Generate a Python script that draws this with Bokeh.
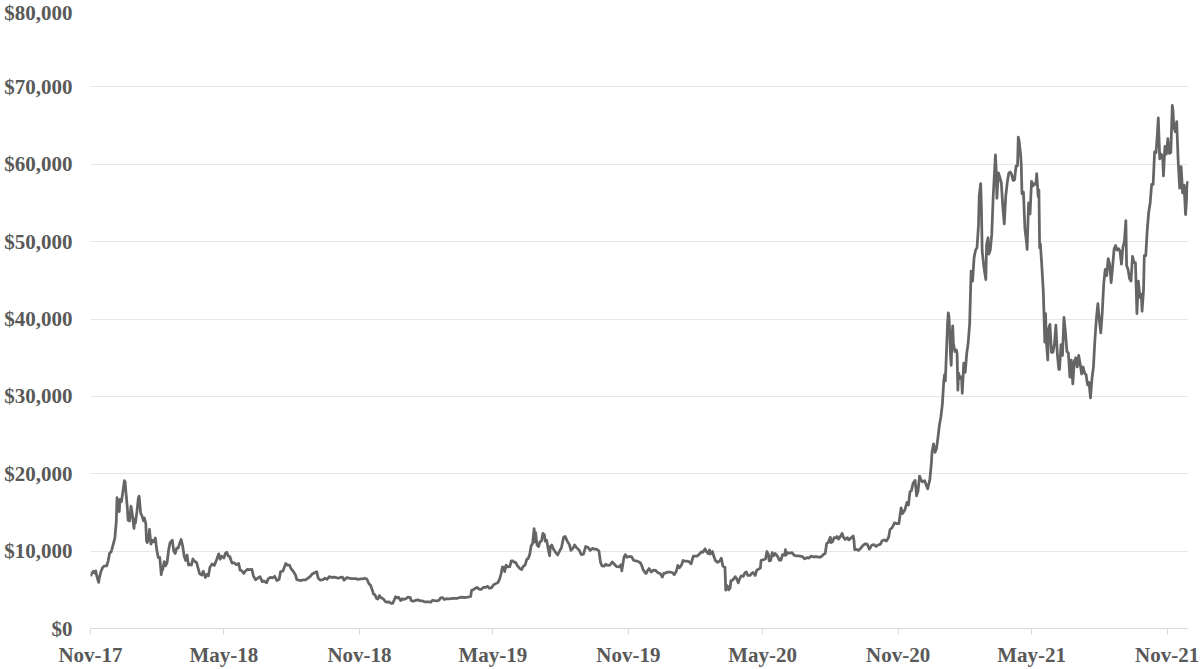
import pandas as pd
from bokeh.plotting import figure
from bokeh.models import (ColumnDataSource, FixedTicker, NumeralTickFormatter,
                          DatetimeTickFormatter, Range1d)
from bokeh.embed import file_html
from bokeh.resources import INLINE

# ---------------- data (BTC price, USD) ----------------
days_2017 = ["11-01","11-03","11-05","11-07","11-08","11-10","11-12","11-13","11-15","11-17",
             "11-19","11-21","11-23","11-25","11-27","11-29","11-30","12-02","12-04","12-06",
             "12-07","12-08","12-10","12-11","12-13","12-15","12-17","12-18","12-19","12-21",
             "12-22","12-24","12-26","12-28","12-30","12-31"]
price_2017 = [6750,7150,7400,7150,7450,6600,5950,6550,7300,7800,
              8050,8100,8100,8750,9750,9900,10230,10950,11650,13800,
              16900,16100,15100,16700,16400,17700,19100,18950,17700,15600,
              14000,13900,15800,14600,12950,14150]

days_2018 = ["01-01","01-03","01-05","01-06","01-08","01-10","01-12","01-13","01-15","01-16",
             "01-17","01-19","01-20","01-22","01-24","01-26","01-28","01-30","02-01","02-03",
             "02-05","02-06","02-07","02-09","02-11","02-13","02-15","02-17","02-20","02-22",
             "02-24","02-26","02-28","03-02","03-04","03-06","03-08","03-10","03-12","03-14",
             "03-16","03-18","03-20","03-22","03-25","03-27","03-29","04-01","04-03","04-06",
             "04-08","04-10","04-12","04-15","04-18","04-21","04-24","04-26","04-28","05-01",
             "05-03","05-05","05-07","05-09","05-12","05-15","05-18","05-21","05-23","05-25",
             "05-28","05-30","06-02","06-05","06-08","06-10","06-13","06-16","06-19","06-22",
             "06-24","06-28","06-30","07-03","07-06","07-09","07-12","07-15","07-17","07-20",
             "07-24","07-26","07-29","07-31","08-03","08-06","08-08","08-11","08-14","08-17",
             "08-20","08-23","08-26","08-29","09-01","09-04","09-06","09-09","09-12","09-15",
             "09-18","09-21","09-24","09-27","09-30","10-03","10-06","10-09","10-11","10-15",
             "10-18","10-21","10-24","10-27","10-30","11-02","11-05","11-08","11-11","11-14",
             "11-16","11-19","11-20","11-22","11-24","11-26","11-28","11-30","12-03","12-06",
             "12-08","12-11","12-14","12-16","12-18","12-20","12-22","12-24","12-27","12-29",
             "12-31"]
price_2018 = [13650,15100,16900,17100,14950,14500,13900,14300,13600,11300,
              11100,11600,12800,10900,11400,11200,11700,10100,9150,9200,
              6950,7700,7600,8650,8100,8550,10150,11100,11400,10000,
              9700,10400,10400,11000,11500,10700,9400,8800,9500,8200,
              8300,8200,9000,8700,8500,7800,7100,6900,7400,6600,
              7000,6800,7900,8350,8150,8850,9650,8950,9350,9100,
              9700,9850,9350,9300,8450,8500,8250,8400,7550,7500,
              7120,7400,7650,7600,7650,6800,6300,6500,6700,6050,
              6150,5900,6400,6600,6550,6750,6200,6350,7350,7400,
              8400,8200,8200,7750,7400,6950,6300,6250,6200,6300,
              6300,6500,6700,7050,7200,7350,6500,6250,6300,6500,
              6350,6700,6600,6650,6600,6500,6600,6650,6250,6600,
              6500,6450,6450,6450,6350,6400,6400,6500,6400,5750,
              5600,4800,4450,4350,3900,3800,4250,4000,3850,3500,
              3400,3450,3250,3250,3650,4100,3950,4050,3600,3850,
              3750]

days_2019 = ["01-03","01-06","01-09","01-10","01-13","01-16","01-19","01-22","01-25","01-28",
             "01-31","02-03","02-06","02-08","02-11","02-14","02-17","02-19","02-22","02-24",
             "02-27","03-02","03-05","03-08","03-11","03-14","03-17","03-20","03-23","03-27",
             "03-30","04-01","04-02","04-05","04-08","04-10","04-12","04-15","04-18","04-21",
             "04-24","04-26","04-29","05-02","05-05","05-08","05-10","05-12","05-14","05-16",
             "05-17","05-19","05-21","05-24","05-26","05-28","05-30","06-01","06-03","06-06",
             "06-09","06-11","06-14","06-16","06-18","06-20","06-22","06-24","06-26","06-27",
             "06-28","06-30","07-02","07-04","07-06","07-08","07-10","07-11","07-13","07-15",
             "07-17","07-18","07-20","07-22","07-25","07-28","07-31","08-02","08-05","08-07",
             "08-10","08-13","08-15","08-18","08-20","08-23","08-26","08-29","09-01","09-04",
             "09-07","09-10","09-13","09-16","09-19","09-22","09-24","09-26","09-29","10-01",
             "10-04","10-07","10-10","10-13","10-16","10-19","10-22","10-23","10-25","10-26",
             "10-28","10-30","11-02","11-05","11-08","11-11","11-14","11-17","11-19","11-21",
             "11-23","11-25","11-27","11-29","12-02","12-05","12-08","12-11","12-14","12-17",
             "12-19","12-21","12-24","12-27","12-31"]
price_2019 = [3850,4050,4000,3630,3520,3630,3700,3600,3580,3450,
              3450,3450,3400,3650,3600,3580,3650,3950,3980,3750,
              3850,3830,3850,3880,3880,3900,4000,4050,4000,4050,
              4100,4150,4900,5050,5250,5300,5100,5050,5300,5300,
              5450,5200,5250,5650,5800,5950,6350,7000,7950,7900,
              7350,8200,7950,8000,8750,8750,8550,8550,8150,7800,
              7600,8000,8250,8950,9050,9550,10700,11000,12900,11200,
              12400,10800,10600,11200,11300,12300,12100,11300,11400,10300,
              9400,10600,10800,10300,9850,9500,10100,10400,11800,11900,
              11300,10800,10100,10400,10800,10400,10150,9550,9600,10600,
              10500,10100,10350,10250,10250,10000,8600,8100,8050,8300,
              8150,8200,8600,8300,8000,7950,8250,7450,8650,9250,
              9550,9200,9300,9300,8800,8750,8650,8500,8150,7600,
              7300,7100,7500,7750,7300,7550,7500,7200,7100,6650,
              7150,7150,7300,7300,7200]

days_2020 = ["01-02","01-05","01-07","01-09","01-12","01-14","01-16","01-19","01-22","01-25",
             "01-28","01-31","02-02","02-05","02-08","02-10","02-13","02-15","02-17","02-19",
             "02-20","02-23","02-25","02-27","03-01","03-04","03-06","03-08","03-10","03-11",
             "03-12","03-13","03-15","03-16","03-18","03-19","03-21","03-23","03-25","03-27",
             "03-29","03-31","04-02","04-05","04-07","04-09","04-11","04-14","04-16","04-18",
             "04-21","04-23","04-26","04-28","04-29","05-01","05-03","05-05","05-07","05-09",
             "05-10","05-12","05-14","05-16","05-18","05-20","05-22","05-24","05-26","05-28",
             "05-31","06-01","06-02","06-04","06-07","06-10","06-13","06-15","06-18","06-21",
             "06-24","06-27","06-30","07-03","07-06","07-09","07-12","07-15","07-18","07-21",
             "07-23","07-25","07-27","07-29","08-01","08-02","08-04","08-06","08-08","08-10",
             "08-12","08-14","08-17","08-19","08-21","08-24","08-26","08-29","09-01","09-02",
             "09-03","09-05","09-08","09-11","09-14","09-17","09-20","09-23","09-26","09-29",
             "10-02","10-05","10-08","10-10","10-13","10-16","10-19","10-21","10-24","10-27",
             "10-30","11-02","11-05","11-07","11-10","11-13","11-15","11-17","11-19","11-21",
             "11-24","11-26","11-28","11-30","12-02","12-04","12-07","12-09","12-11","12-14",
             "12-16","12-17","12-19","12-21","12-23","12-25","12-27","12-29","12-31"]
price_2020 = [6950,7400,8150,7850,8200,8800,8700,8700,8650,8350,
              9350,9350,9350,9600,9900,9850,10300,9900,9700,10150,
              9600,9950,9300,8780,8550,8750,9100,8100,7900,7900,
              4950,5600,5400,5000,5250,6200,6200,6450,6700,6400,
              5900,6450,6800,6750,7200,7300,6850,6850,7100,7250,
              6850,7500,7700,7800,8800,8850,8900,9000,9950,9550,
              8750,8800,9800,9400,9700,9500,9200,8800,8850,9550,
              9450,10200,9500,9800,9750,9800,9450,9400,9400,9350,
              9300,9000,9150,9100,9350,9250,9300,9250,9200,9400,
              9600,9700,11000,11100,11800,11100,11200,11750,11700,11900,
              11550,11800,12300,11750,11500,11750,11450,11700,11950,11400,
              10200,10250,10100,10350,10700,10950,10900,10250,10750,10850,
              10600,10800,10900,11300,11450,11300,11750,12800,13050,13650,
              13550,13550,15600,14850,15300,16300,15950,17650,17800,18700,
              19150,17150,17750,19700,19200,18950,19100,18550,18050,19250,
              21300,22800,23850,22750,23250,24650,26300,27350,29000]

days_2021 = ["01-02","01-03","01-04","01-06","01-07","01-08","01-09","01-10","01-11","01-12",
             "01-13","01-14","01-15","01-17","01-19","01-20","01-21","01-22","01-24","01-26",
             "01-27","01-29","01-31","02-02","02-04","02-06","02-08","02-10","02-12","02-14",
             "02-16","02-18","02-19","02-21","02-22","02-23","02-25","02-26","02-28","03-01",
             "03-03","03-04","03-06","03-08","03-10","03-13","03-14","03-15","03-17","03-19",
             "03-21","03-23","03-25","03-27","03-29","03-31","04-02","04-04","04-06","04-08",
             "04-10","04-12","04-13","04-14","04-16","04-17","04-18","04-20","04-22","04-24",
             "04-25","04-27","04-29","05-01","05-03","05-05","05-07","05-08","05-10","05-11",
             "05-12","05-13","05-15","05-17","05-19","05-20","05-21","05-23","05-24","05-26",
             "05-28","05-30","06-01","06-03","06-05","06-07","06-08","06-10","06-12","06-14",
             "06-16","06-18","06-20","06-22","06-24","06-26","06-28","06-30","07-02","07-04",
             "07-06","07-08","07-10","07-12","07-14","07-16","07-18","07-20","07-22","07-24",
             "07-26","07-28","07-30","08-01","08-03","08-05","08-07","08-09","08-11","08-13",
             "08-15","08-17","08-19","08-21","08-23","08-25","08-27","08-29","08-31","09-02",
             "09-04","09-06","09-07","09-09","09-11","09-13","09-15","09-17","09-19","09-21",
             "09-23","09-25","09-27","09-28","09-30","10-01","10-03","10-05","10-07","10-09",
             "10-11","10-13","10-15","10-17","10-19","10-20","10-22","10-24","10-26","10-27",
             "10-29","10-31","11-02","11-04","11-06","11-08","11-09","11-10","11-12","11-14",
             "11-16","11-18","11-20","11-22","11-24","11-26","11-27","11-28","11-29"]
price_2021 = [32100,32800,32000,36800,39400,40800,40250,38250,35500,34000,
              37400,39100,36800,35800,36000,35500,30800,33000,32300,32500,
              30400,34300,33100,35500,36900,39300,46200,44900,47900,48900,
              49200,52100,55900,57500,54200,48800,47000,46300,45100,49600,
              50500,48400,48900,50900,55900,61200,59300,55600,58900,58300,
              57600,54500,52300,55900,57600,58800,59000,58700,57900,58000,
              59800,59800,63500,63100,61400,60100,56200,56400,51700,50100,
              49000,55000,53600,57800,57200,57500,57400,58800,55800,56700,
              49200,49700,46800,43500,37000,40700,37300,34700,38700,39300,
              35700,35700,36700,39200,35500,33500,33500,36700,35300,40200,
              38300,35800,35600,32500,34700,31600,34500,35000,33800,35300,
              34200,32900,33800,33000,32800,31500,31800,29800,32300,33800,
              37300,40000,42000,39900,38200,40900,44600,46400,45600,47800,
              47100,44700,46700,49000,49500,48900,49100,48800,47100,49300,
              50000,52700,46900,46400,45200,44900,48100,47300,47300,40700,
              44900,42800,43200,41000,43800,48200,48200,51500,53800,55000,
              57400,57400,61600,61500,64300,66000,60700,61300,60900,58500,
              62300,61300,63300,61400,61500,67600,66900,64900,64200,65500,
              60400,56900,59700,56300,57300,53500,54800,57200,57800]

y_ticks = [0, 10000, 20000, 30000, 40000, 50000, 60000, 70000, 80000]
x_tick_dates = ["2017-11-01", "2018-05-01", "2018-11-01", "2019-05-01", "2019-11-01",
                "2020-05-01", "2020-11-01", "2021-05-01", "2021-11-01"]
x_tick_labels = ["Nov-17", "May-18", "Nov-18", "May-19", "Nov-19",
                 "May-20", "Nov-20", "May-21", "Nov-21"]

# ---------------- build series ----------------
dates, prices = [], []
for yr, dd, pp in [(2017, days_2017, price_2017), (2018, days_2018, price_2018),
                   (2019, days_2019, price_2019), (2020, days_2020, price_2020),
                   (2021, days_2021, price_2021)]:
    dates += [pd.Timestamp(f"{yr}-{d}") for d in dd]
    prices += pp

src = ColumnDataSource(data=dict(date=dates, price=prices))

FONT = "Liberation Serif"
TXT = "#595959"

p = figure(width=1200, height=669, x_axis_type="datetime",
           output_backend="svg", toolbar_location=None,
           x_range=Range1d(pd.Timestamp("2017-11-01"), pd.Timestamp("2021-11-30")),
           y_range=Range1d(0, 80000),
           min_border_left=90, min_border_right=12, min_border_top=9, min_border_bottom=0)
p.outline_line_color = None
p.background_fill_color = "white"
p.border_fill_color = "white"

p.line("date", "price", source=src, line_color="#656565", line_width=2.75,
       line_join="round")

tick_ms = [pd.Timestamp(d).value // 10**6 for d in x_tick_dates]
p.xaxis.ticker = FixedTicker(ticks=tick_ms)
p.xaxis.formatter = DatetimeTickFormatter(days="%b-%y", months="%b-%y", years="%b-%y")
p.xaxis.major_label_overrides = {t: l for t, l in zip(tick_ms, x_tick_labels)}
p.xaxis.major_label_standoff = 8
p.xaxis.axis_line_color = "#d9d9d9"
p.xaxis.major_tick_line_color = "#d9d9d9"
p.xaxis.major_tick_out = 6
p.xaxis.major_tick_in = 0
p.xaxis.minor_tick_line_color = None

p.yaxis.ticker = FixedTicker(ticks=y_ticks)
p.yaxis.formatter = NumeralTickFormatter(format="$0,0")
p.yaxis.axis_line_color = None
p.yaxis.major_tick_line_color = None
p.yaxis.minor_tick_line_color = None
p.yaxis.major_tick_out = 0
p.yaxis.major_tick_in = 0
p.yaxis.major_label_standoff = 18

for ax in (p.xaxis, p.yaxis):
    ax.major_label_text_font = FONT
    ax.major_label_text_font_style = "bold"
    ax.major_label_text_font_size = "21px"
    ax.major_label_text_color = TXT

p.xgrid.grid_line_color = None
p.ygrid.ticker = FixedTicker(ticks=y_ticks)
p.ygrid.grid_line_color = "#e6e6e6"
p.ygrid.grid_line_width = 1

open("out.html", "w").write(file_html(p, INLINE))
